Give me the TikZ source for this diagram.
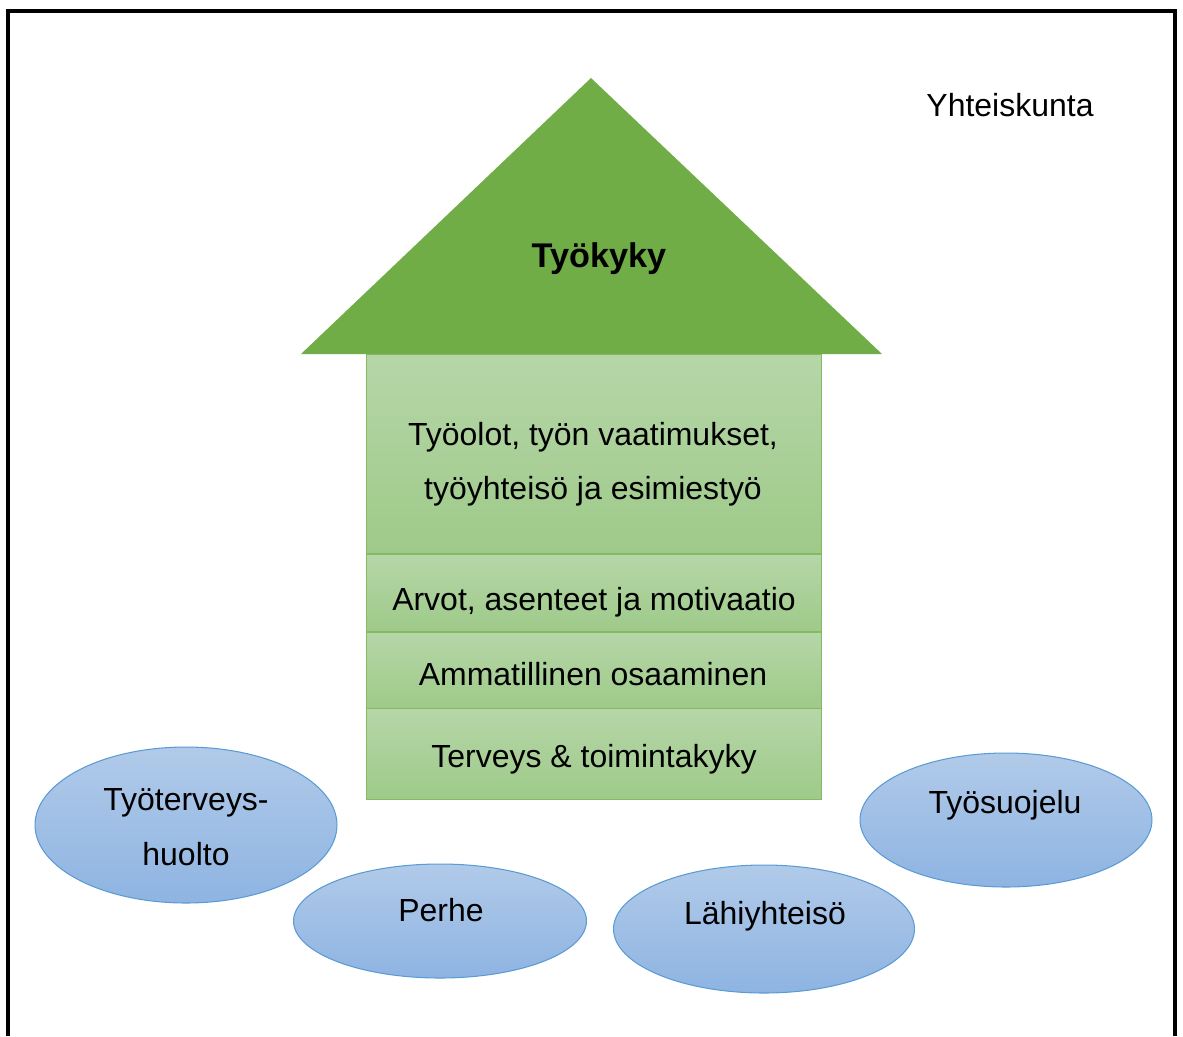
\documentclass[tikz,border=0pt]{standalone}
\usepackage{fontspec}
\setmainfont{Liberation Sans}
\usepackage{xcolor}
\usetikzlibrary{shapes.geometric, positioning}

\definecolor{roofgreen}{HTML}{70AD47}
\definecolor{layertop}{HTML}{B6D6A8}
\definecolor{layerbot}{HTML}{9ECA89}
\definecolor{bubbletop}{HTML}{B1CAE9}
\definecolor{bubblebot}{HTML}{8EB4E2}
\definecolor{bubbleedge}{HTML}{5B9BD5}

\begin{document}
\begin{tikzpicture}[
    x=0.02cm, y=-0.02cm,
    font=\fontsize{18.2}{31}\selectfont,
    layerbox/.style={draw=roofgreen!85, line width=0.6pt,
        top color=layertop, bottom color=layerbot,
        minimum width=9.12cm, minimum height=#1,
        inner sep=0pt, outer sep=0pt},
    bubble/.style={ellipse, draw=bubbleedge, line width=0.6pt,
        top color=bubbletop, bottom color=bubblebot, inner sep=0pt},
    txt/.style={align=center, inner sep=0pt},
]
\useasboundingbox (0,0) rectangle (1183,1036);

%% ========== FRAME ==========
\draw[line width=2.1pt] (8,1036) -- (8,11) -- (1175,11) -- (1175,1036);
\node[txt, anchor=base] (society) at (1010,116) {Yhteiskunta};

%% ========== HOUSE LAYERS ==========
\node[layerbox=4cm] (work) at (594,454) {};
\node[layerbox=1.56cm, below=0pt of work] (values) {};
\node[layerbox=1.54cm, below=0pt of values] (skill) {};
\node[layerbox=1.82cm, below=0pt of skill] (health) {};

\node[txt] (worktxt) at (593,464) {Työolot, työn vaatimukset,\\työyhteisö ja esimiestyö};
\node[txt, anchor=base] (valuestxt) at (594,610) {Arvot, asenteet ja motivaatio};
\node[txt, anchor=base] (skilltxt) at (593,685) {Ammatillinen osaaminen};
\node[txt, anchor=base] (healthtxt) at (594,767) {Terveys \& toimintakyky};

%% ========== ROOF ==========
\fill[roofgreen] (301,354) -- (591,78) -- (882,354) -- cycle;
\node[txt, anchor=base, font=\fontsize{19.5}{24}\selectfont\bfseries] (roof) at (599,267) {Työkyky};

%% ========== SUPPORT ELLIPSES ==========
\node[bubble, minimum width=6.04cm, minimum height=3.12cm] (occ) at (186,825) {};
\node[bubble, minimum width=5.86cm, minimum height=2.28cm] (family) at (440,921) {};
\node[bubble, minimum width=6.02cm, minimum height=2.56cm] (local) at (764,929) {};
\node[bubble, minimum width=5.84cm, minimum height=2.68cm] (safety) at (1006,820) {};

\node[txt] (occtxt) at (186,827) {Työterveys-\\huolto};
\node[txt, anchor=base] (familytxt) at (441,921) {Perhe};
\node[txt, anchor=base] (localtxt) at (765,924) {Lähiyhteisö};
\node[txt, anchor=base] (safetytxt) at (1005,813) {Työsuojelu};
\end{tikzpicture}
\end{document}
